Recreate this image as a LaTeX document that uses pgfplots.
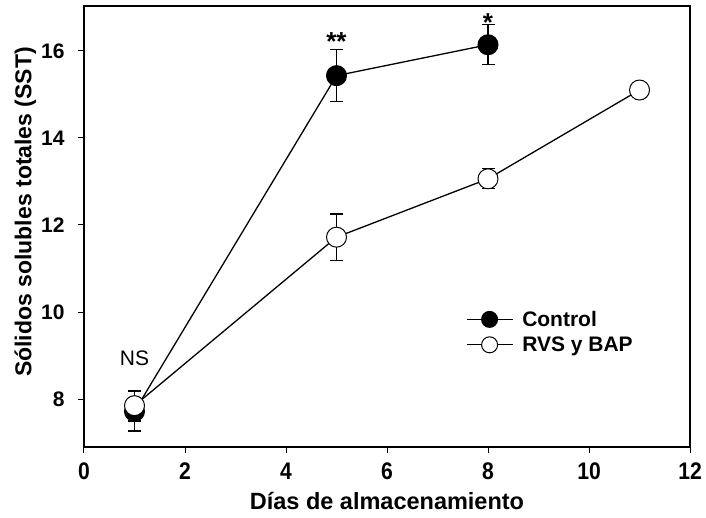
\documentclass[border=0pt]{standalone}
\usepackage{pgfplots}
\pgfplotsset{compat=1.18}
\usepackage{fontspec}
\setmainfont{Liberation Sans}
\newfontfamily\narrowfont[FakeStretch=0.88]{Liberation Sans}
\begin{document}
\begin{tikzpicture}
\begin{axis}[
  scale only axis, width=606pt, height=441pt,
  xmin=0, xmax=12, ymin=6.9, ymax=17.03,
  xtick={0,2,...,12}, ytick={8,10,...,16},
  tick align=outside, tick pos=left,
  major tick length=6pt,
  axis line style={line width=1.3pt},
  tick style={line width=1pt, black},
  xticklabel style={font=\narrowfont\fontsize{24}{26}\selectfont\bfseries, yshift=-6pt},
  yticklabel style={font=\fontsize{21}{24}\selectfont\bfseries, xshift=-10pt},
  /pgf/number format/assume math mode=true,
  xlabel={Días de almacenamiento}, ylabel={Sólidos solubles totales (SST)},
  xlabel style={font=\fontsize{23.5}{26}\selectfont\bfseries, at={(axis description cs:0.5,0)}, anchor=base, yshift=-62pt},
  ylabel style={font=\fontsize{23}{26}\selectfont\bfseries, at={(axis description cs:-0.097,0.533)}, anchor=center},
  legend style={draw=none, fill=none, at={(axis cs:7.5,10.12)}, anchor=north west,
    font=\fontsize{21}{24}\selectfont\bfseries, row sep=5pt,
    /tikz/every odd column/.append style={column sep=7pt},
    legend image code/.code={\draw[mark repeat=2,mark phase=2,#1] plot coordinates {(0pt,0pt)(23pt,0pt)(46pt,0pt)};}},
  legend cell align=left,
  error bars/y dir=both, error bars/y explicit,
  error bars/error bar style={line width=1.3pt, black},
  error bars/error mark options={rotate=90, mark size=6.5pt, line width=1.3pt, black},
]
\addplot[black, line width=1.3pt, mark=*, mark size=10pt, mark options={fill=black, line width=1pt}, forget plot]
  coordinates {(1,7.72) +- (0,0.45) (5,15.43) +- (0,0.6) (8,16.14) +- (0,0.46)};
\addplot[black, line width=1.3pt, mark=*, mark size=10pt, mark options={fill=white, line width=1pt}, forget plot]
  coordinates {(1,7.85) +- (0,0.35) (5,11.72) +- (0,0.53) (8,13.06) +- (0,0.23) (11,15.1) +- (0,0.05)};
\addlegendimage{black, line width=1.3pt, mark=*, mark size=8pt, mark options={fill=black, line width=1pt}}
\addlegendentry{Control}
\addlegendimage{black, line width=1.3pt, mark=*, mark size=8pt, mark options={fill=white, line width=1pt}}
\addlegendentry{RVS y BAP}
\node[font=\fontsize{21}{24}\selectfont] at (axis cs:1,8.94) {NS};
\node[font=\fontsize{26}{28}\selectfont\bfseries, anchor=base] at (axis cs:5,16.01) {**};
\node[font=\fontsize{26}{28}\selectfont\bfseries, anchor=base] at (axis cs:8,16.45) {*};
\end{axis}
\path ([shift={(-84pt,-70pt)}]current axis.south west) rectangle ([shift={(16pt,6pt)}]current axis.north east);
\end{tikzpicture}
\end{document}
